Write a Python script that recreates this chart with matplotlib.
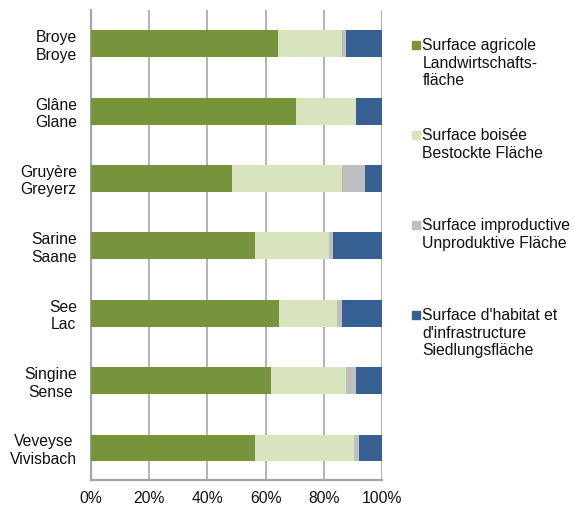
import matplotlib.pyplot as plt
from matplotlib.patches import Rectangle
import numpy as np

districts = ["Broye\nBroye", "Glâne\nGlane", "Gruyère\nGreyerz", "Sarine\nSaane",
             "See\nLac", "Singine\nSense", "Veveyse\nVivisbach"]

# shares in percent
agricole = [64.3, 70.6, 48.4, 56.3, 64.6, 61.7, 56.2]
boisee = [22.1, 20.3, 37.7, 25.6, 19.8, 25.8, 34.1]
improductive = [1.3, 0.3, 8.1, 1.4, 2.0, 3.7, 1.9]
habitat = [12.3, 8.8, 5.8, 16.7, 13.6, 8.8, 7.8]

series = [agricole, boisee, improductive, habitat]
labels = ["Surface agricole\nLandwirtschafts-\nfläche",
          "Surface boisée\nBestockte Fläche",
          "Surface improductive\nUnproduktive Fläche",
          "Surface d'habitat et\nd'infrastructure\nSiedlungsfläche"]
colors = ["#77933C", "#D7E4BD", "#BFBFBF", "#376092"]

plt.rcParams['font.family'] = ['Liberation Sans', 'DejaVu Sans']
plt.rcParams['font.size'] = 11.3

W, H = 574, 508
fig = plt.figure(figsize=(W / 100, H / 100), dpi=100)
ax = fig.add_axes([91 / W, 1 - 480 / H, (382 - 91) / W, (480 - 10) / H])

y = np.arange(len(districts))
left = np.zeros(len(districts))
for vals, col in zip(series, colors):
    ax.barh(y, vals, left=left, height=0.4, color=col, zorder=3)
    left += np.array(vals)

ax.set_xlim(0, 100)
ax.set_ylim(6.475, -0.5)
ax.set_xticks(np.arange(0, 101, 20))
ax.set_xticklabels([f"{v}%" for v in range(0, 101, 20)])
ax.set_yticks(y)
ax.set_yticklabels(districts)
for t in ax.get_yticklabels():
    t.set_multialignment('center')
ax.tick_params(axis='both', length=0, colors='#111111')
ax.tick_params(axis='y', pad=10)
ax.tick_params(axis='x', pad=8)
ax.grid(axis='x', color='#A6A6A6', linewidth=1.2, zorder=0)
for side in ['top', 'right']:
    ax.spines[side].set_visible(False)
for side in ['left', 'bottom']:
    ax.spines[side].set_color('#A6A6A6')
    ax.spines[side].set_linewidth(1.6)

# legend drawn to the right, handle aligned with the first text line
leg_y = [45, 135, 225, 315]
for lab, col, ly in zip(labels, colors, leg_y):
    fig.add_artist(Rectangle((411.5 / W, 1 - (ly + 4) / H), 8 / W, 8 / H,
                             transform=fig.transFigure, color=col))
    fig.text(422.5 / W, 1 - (ly - 7) / H, lab, ha='left', va='top',
             color='#111111', linespacing=1.22)

fig.savefig('out.png', dpi=100)
